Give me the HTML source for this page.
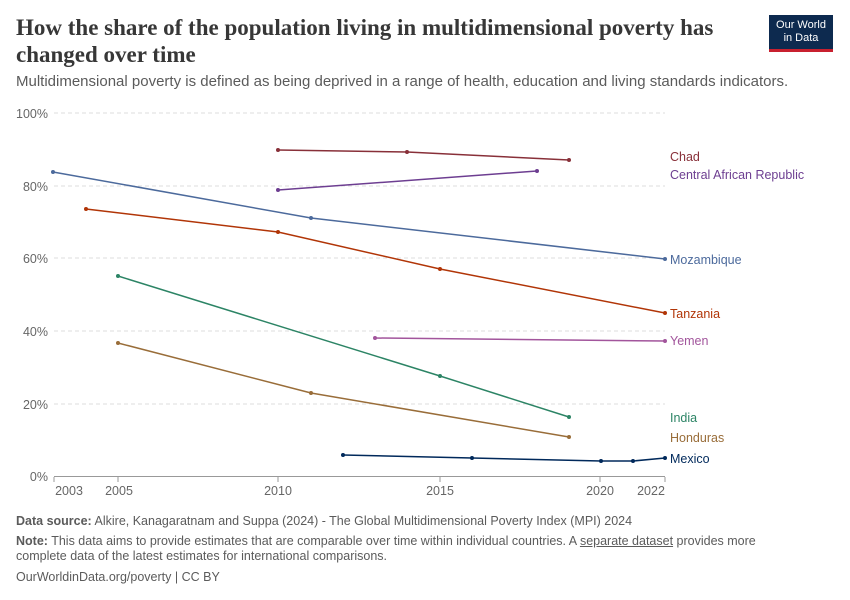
<!DOCTYPE html>
<html><head><meta charset="utf-8"><style>
body{margin:0;background:#fff;font-family:"Liberation Sans",sans-serif;}
.w{position:relative;width:850px;height:600px;overflow:hidden;}
h1{position:absolute;left:16px;top:14px;margin:0;font-family:"Liberation Serif",serif;font-size:23px;line-height:27px;color:#373737;font-weight:bold;width:720px;}
.sub{position:absolute;left:16px;top:73px;font-size:15px;color:#5b5b5b;}
.logo{position:absolute;left:769px;top:15px;width:64px;height:37px;background:#0d2a4f;color:#fff;font-size:11px;line-height:13px;text-align:center;padding-top:4px;box-sizing:border-box;border-bottom:3px solid #c8202f;}
.f{position:absolute;left:16px;font-size:12.5px;color:#5b5b5b;line-height:15px;}
</style></head><body><div class="w">
<h1>How the share of the population living in multidimensional poverty has changed over time</h1>
<div class="sub">Multidimensional poverty is defined as being deprived in a range of health, education and living standards indicators.</div>
<div class="logo">Our World<br>in Data</div>
<svg width="850" height="600" style="position:absolute;left:0;top:0" font-family="Liberation Sans, sans-serif">
<g stroke="#ddd" stroke-dasharray="4,3">
<line x1="54" x2="665" y1="113" y2="113"/><line x1="54" x2="665" y1="186" y2="186"/><line x1="54" x2="665" y1="258" y2="258"/><line x1="54" x2="665" y1="331" y2="331"/><line x1="54" x2="665" y1="404" y2="404"/>
</g>
<line x1="54" x2="665" y1="476.5" y2="476.5" stroke="#999"/>
<g font-size="12.5" fill="#666" text-anchor="end">
<text x="48" y="118">100%</text><text x="48" y="191">80%</text><text x="48" y="263">60%</text><text x="48" y="336">40%</text><text x="48" y="409">20%</text><text x="48" y="481">0%</text>
</g>
<g stroke="#999"><line x1="54" x2="54" y1="477" y2="482"/><line x1="118" x2="118" y1="477" y2="482"/><line x1="278" x2="278" y1="477" y2="482"/><line x1="440" x2="440" y1="477" y2="482"/><line x1="600" x2="600" y1="477" y2="482"/><line x1="665" x2="665" y1="477" y2="482"/></g>
<g font-size="12.5" fill="#666" text-anchor="middle">
<text x="69" y="495">2003</text><text x="119" y="495">2005</text><text x="278" y="495">2010</text><text x="440" y="495">2015</text><text x="600" y="495">2020</text><text x="651" y="495">2022</text>
</g>
<g fill="none" stroke-width="1.5">
<polyline stroke="#883039" points="278,150 407,152 569,160"/>
<polyline stroke="#6d3e91" points="278,190 537,171"/>
<polyline stroke="#4c6a9c" points="53,172 311,218 665,259"/>
<polyline stroke="#b13507" points="86,209 278,232 440,269 665,313"/>
<polyline stroke="#a2559c" points="375,338 665,341"/>
<polyline stroke="#2c8465" points="118,276 440,376 569,417"/>
<polyline stroke="#996d39" points="118,343 311,393 569,437"/>
<polyline stroke="#00295b" points="343,455 472,458 601,461 633,461 665,458"/>
</g>
<g>
<g fill="#883039"><circle cx="278" cy="150" r="2"/><circle cx="407" cy="152" r="2"/><circle cx="569" cy="160" r="2"/></g>
<g fill="#6d3e91"><circle cx="278" cy="190" r="2"/><circle cx="537" cy="171" r="2"/></g>
<g fill="#4c6a9c"><circle cx="53" cy="172" r="2"/><circle cx="311" cy="218" r="2"/><circle cx="665" cy="259" r="2"/></g>
<g fill="#b13507"><circle cx="86" cy="209" r="2"/><circle cx="278" cy="232" r="2"/><circle cx="440" cy="269" r="2"/><circle cx="665" cy="313" r="2"/></g>
<g fill="#a2559c"><circle cx="375" cy="338" r="2"/><circle cx="665" cy="341" r="2"/></g>
<g fill="#2c8465"><circle cx="118" cy="276" r="2"/><circle cx="440" cy="376" r="2"/><circle cx="569" cy="417" r="2"/></g>
<g fill="#996d39"><circle cx="118" cy="343" r="2"/><circle cx="311" cy="393" r="2"/><circle cx="569" cy="437" r="2"/></g>
<g fill="#00295b"><circle cx="343" cy="455" r="2"/><circle cx="472" cy="458" r="2"/><circle cx="601" cy="461" r="2"/><circle cx="633" cy="461" r="2"/><circle cx="665" cy="458" r="2"/></g>
</g>
<g font-size="12.5">
<text x="670" y="161" fill="#883039">Chad</text>
<text x="670" y="179" fill="#6d3e91">Central African Republic</text>
<text x="670" y="264" fill="#4c6a9c">Mozambique</text>
<text x="670" y="318" fill="#b13507">Tanzania</text>
<text x="670" y="345" fill="#a2559c">Yemen</text>
<text x="670" y="422" fill="#2c8465">India</text>
<text x="670" y="442" fill="#996d39">Honduras</text>
<text x="670" y="463" fill="#00295b">Mexico</text>
</g>
</svg>
<div class="f" style="top:514px"><b>Data source:</b> Alkire, Kanagaratnam and Suppa (2024) - The Global Multidimensional Poverty Index (MPI) 2024</div>
<div class="f" style="top:534px;width:790px"><b>Note:</b> This data aims to provide estimates that are comparable over time within individual countries. A <u>separate dataset</u> provides more complete data of the latest estimates for international comparisons.</div>
<div class="f" style="top:570px">OurWorldinData.org/poverty | CC BY</div>
</div></body></html>
